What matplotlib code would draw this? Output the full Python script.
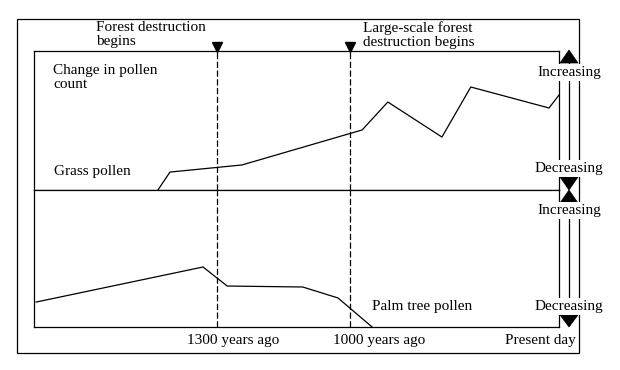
import matplotlib
matplotlib.use("Agg")
import matplotlib.pyplot as plt
from matplotlib.patches import Rectangle, Polygon
import matplotlib.transforms as mtransforms

plt.rcParams['font.family'] = ['Liberation Serif', 'DejaVu Serif']
plt.rcParams['font.size'] = 11

# relative time axis: 0 = left edge, 100 = present day
grass_x = [23.6, 25.9, 39.6, 62.5, 67.4, 77.7, 83.2, 98.1, 100]
grass_y = [0, 12.9, 18.0, 43.2, 63.3, 38.1, 74.1, 59.0, 68.3]

palm_x = [0.4, 32.2, 36.8, 51.2, 57.9, 64.4]
palm_y = [18.2, 43.8, 29.9, 29.2, 21.2, 0]

event_x = [34.9, 60.2]
event_labels = ["Forest destruction\nbegins", "Large-scale forest\ndestruction begins"]
time_labels = ["1300 years ago", "1000 years ago", "Present day"]

W, H = 620, 370
fig = plt.figure(figsize=(W / 100, H / 100), dpi=100)

# inner box in pixels
L, R, T, M, B = 34, 559, 51, 190, 327
ax_top = fig.add_axes([L / W, 1 - M / H, (R - L) / W, (M - T) / H])
ax_bot = fig.add_axes([L / W, 1 - B / H, (R - L) / W, (B - M) / H])

for ax in (ax_top, ax_bot):
    ax.set_xlim(0, 100)
    ax.set_ylim(0, 100)
    ax.set_xticks([])
    ax.set_yticks([])
    for sp in ax.spines.values():
        sp.set_linewidth(0.9)
    for x in event_x:
        ax.axvline(x, color='black', lw=0.9, ls=(0, (5, 2)))

ax_top.plot(grass_x, grass_y, color='black', lw=0.9, clip_on=False)
ax_bot.plot(palm_x, palm_y, color='black', lw=0.9, clip_on=False)

trans = mtransforms.blended_transform_factory(ax_top.transData, ax_top.transAxes)
ax_top.plot(event_x, [1.03] * len(event_x), 'v', color='black', ms=6.5,
            transform=trans, clip_on=False)

# overlay in pixel coordinates for frame and annotations
ov = fig.add_axes([0, 0, 1, 1], zorder=5)
ov.set_xlim(0, W)
ov.set_ylim(H, 0)
ov.axis('off')
ov.patch.set_alpha(0)

ov.add_patch(Rectangle((17, 19), 562, 334, fill=False, lw=0.9, ec='black'))

# right-hand increasing/decreasing scale
ov.plot([569, 569], [63, 177], color='black', lw=0.9)
ov.plot([569, 569], [203, 315], color='black', lw=0.9)
tri = [[(560, 63), (578, 63), (569, 50)],
       [(560, 177), (578, 177), (569, 190)],
       [(560, 203), (578, 203), (569, 190)],
       [(560, 315), (578, 315), (569, 327)]]
for t in tri:
    ov.add_patch(Polygon(t, closed=True, fc='black', ec='black', lw=0.5))

box = dict(fc='white', ec='none', pad=1.5)
for y, s in [(76, "Increasing"), (172, "Decreasing"),
             (214, "Increasing"), (310, "Decreasing")]:
    ov.text(569, y, s, ha='center', va='baseline', bbox=box)

ov.text(96, 21, event_labels[0], ha='left', va='top', linespacing=1.1)
ov.text(363, 21, event_labels[1], ha='left', va='top', linespacing=1.1)
ov.text(53, 64, "Change in pollen\ncount", ha='left', va='top', linespacing=1.1)
ov.text(54, 175, "Grass pollen", ha='left', va='baseline')
ov.text(372, 310, "Palm tree pollen", ha='left', va='baseline')

ov.text(187, 344, time_labels[0], ha='left', va='baseline')
ov.text(333, 344, time_labels[1], ha='left', va='baseline')
ov.text(576, 344, time_labels[2], ha='right', va='baseline')

fig.savefig("out.png", dpi=100, facecolor='white')
